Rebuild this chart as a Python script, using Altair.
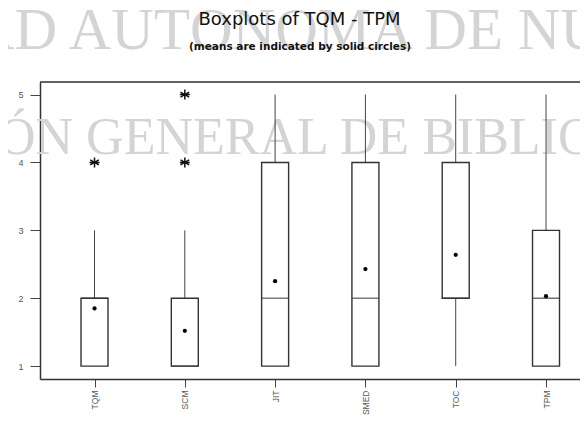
import altair as alt
import pandas as pd

# ---- data ----
categories = ["TQM", "SCM", "JIT", "SMED", "TOC", "TPM"]
q1 = [1, 1, 1, 1, 2, 1]
median = [2, 1, 2, 2, 2, 2]
q3 = [2, 2, 4, 4, 4, 3]
whisker_low = [1, 1, 1, 1, 1, 1]
whisker_high = [3, 3, 5, 5, 5, 5]
means = [1.85, 1.52, 2.25, 2.43, 2.64, 2.03]
outlier_cat = ["TQM", "SCM", "SCM"]
outlier_val = [4, 4, 5]
y_ticks = [1, 2, 3, 4, 5]

title_text = ["Boxplots of TQM - TPM"]
subtitle_text = ["(means are indicated by solid circles)"]
watermark_line1 = ["AD AUTÓNOMA DE NUEVO LEÓN"]
watermark_line2 = ["ÓN GENERAL DE BIBLIOTECAS"]

W, H = 540, 297

box_df = pd.DataFrame({
    "cat": categories, "q1": q1, "median": median, "q3": q3,
    "lo": whisker_low, "hi": whisker_high, "mean": means,
})
out_df = pd.DataFrame({"cat": outlier_cat, "value": outlier_val})

xscale = alt.Scale(type="point", domain=categories, padding=0.49, align=0.616)
yscale = alt.Scale(domain=[0.81, 5.185], nice=False, zero=False)

xaxis = alt.Axis(title=None, labelAngle=270, labelFont="Liberation Sans",
                 labelFontSize=8.5, labelColor="#555555", tickSize=8,
                 tickColor="#444444", domainColor="#333333", domainWidth=1.5,
                 labelPadding=3, grid=False)
yaxis = alt.Axis(title=None, values=y_ticks, format="d", tickSize=10,
                 labelPadding=7, labelFont="Liberation Sans", labelFontSize=9,
                 labelColor="#555555", domainColor="#333333", domainWidth=1.5,
                 tickColor="#444444", grid=False)


def X():
    return alt.X("cat:N", scale=xscale, axis=xaxis, sort=categories)


def Y(field):
    return alt.Y(f"{field}:Q", scale=yscale, axis=yaxis)


def text_layer(rows, x, y, **style):
    return alt.Chart(pd.DataFrame({"t": rows})).mark_text(**style).encode(
        text="t:N", x=alt.value(x), y=alt.value(y))


wm1 = text_layer(watermark_line1, -68, -33, font="Liberation Serif",
                 fontSize=59, color="#d4d4d4", align="left",
                 baseline="alphabetic")
wm2 = text_layer(watermark_line2, -42, 72, font="Liberation Serif",
                 fontSize=52, color="#d4d4d4", align="left",
                 baseline="alphabetic")
title = text_layer(title_text, 259.5, -57, font="DejaVu Sans", fontSize=18,
                   color="#111111", align="center", baseline="alphabetic")
subtitle = text_layer(subtitle_text, 260, -32, font="DejaVu Sans",
                      fontSize=10.5, fontWeight="bold", color="#111111",
                      align="center", baseline="alphabetic")

top_border = alt.Chart(pd.DataFrame({"a": [0]})).mark_rule(
    color="#333333", strokeWidth=1.5
).encode(x=alt.value(0), x2=alt.value(W), y=alt.value(0))

base = alt.Chart(box_df)

upper_whisker = base.mark_rule(color="#444444", strokeWidth=1).encode(
    x=X(), y=Y("q3"), y2="hi:Q")
lower_whisker = base.mark_rule(color="#444444", strokeWidth=1).encode(
    x=X(), y=Y("lo"), y2="q1:Q")
boxes = base.mark_bar(fill="white", stroke="#333333", strokeWidth=1.4,
                      size=27).encode(x=X(), y=Y("q1"), y2="q3:Q")
medians = base.mark_tick(color="#333333", thickness=1.4, size=27,
                         orient="horizontal").encode(x=X(), y=Y("median"))
mean_pts = base.mark_point(filled=True, color="black", size=18,
                           shape="circle", opacity=1).encode(x=X(), y=Y("mean"))

asterisk = "M0,-1L0,1M-0.87,-0.5L0.87,0.5M-0.87,0.5L0.87,-0.5M-1,0L1,0"
outliers = alt.Chart(out_df).mark_point(
    shape=asterisk, filled=False, stroke="#111111", strokeWidth=1.5,
    size=100, opacity=1
).encode(x=X(), y=Y("value"))

chart = alt.layer(
    wm1, wm2, title, subtitle, upper_whisker, lower_whisker, boxes, medians,
    mean_pts, outliers, top_border
).properties(
    width=W, height=H,
    autosize=alt.AutoSizeParams(type="none"),
    padding={"left": 32, "top": 74, "right": 0, "bottom": 52},
).configure_view(strokeOpacity=0).configure(background="white")

chart.save("out.html", embed_options={"renderer": "svg", "actions": False})
